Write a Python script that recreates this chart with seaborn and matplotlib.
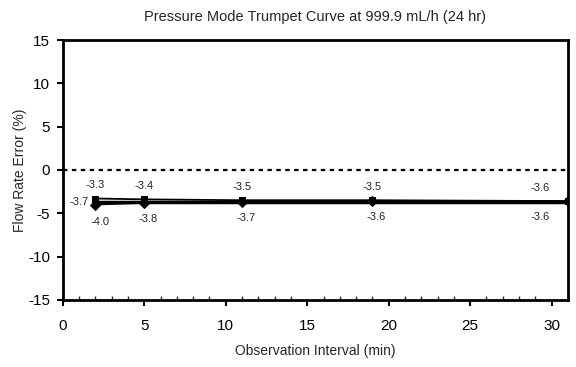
import numpy as np
import pandas as pd
import matplotlib.pyplot as plt
import seaborn as sns
from matplotlib.ticker import MultipleLocator

# Data
intervals = [2, 5, 11, 19, 31]
max_error = [-3.3, -3.4, -3.5, -3.5, -3.6]
min_error = [-4.0, -3.8, -3.7, -3.6, -3.6]
overall_error = -3.7

sns.set_style("ticks")
plt.rcParams['font.family'] = ['Liberation Sans', 'DejaVu Sans']
plt.rcParams['axes.unicode_minus'] = False

fig = plt.figure(figsize=(5.76, 3.67), dpi=100)
ax = fig.add_axes([0.109, 0.183, 0.877, 0.708])

df = pd.DataFrame({
    'interval': intervals * 2,
    'error': max_error + min_error,
    'series': ['Max'] * len(intervals) + ['Min'] * len(intervals),
})

sns.lineplot(data=df[df.series == 'Max'], x='interval', y='error', ax=ax,
             color='black', marker='s', markersize=5, linewidth=1.3,
             markeredgecolor='black')
sns.lineplot(data=df[df.series == 'Min'], x='interval', y='error', ax=ax,
             color='black', marker='D', markersize=5, linewidth=1.3,
             markeredgecolor='black')
sns.lineplot(x=[intervals[0], intervals[-1]], y=[overall_error, overall_error], ax=ax,
             color='black', linewidth=2.5)

# zero reference line
ax.axhline(0, color='black', linestyle=(0, (2, 2)), linewidth=1.6)

# value labels
for i, (x, v) in enumerate(zip(intervals, max_error)):
    dx = -20 if i == len(intervals) - 1 else 0
    ax.annotate(f"{v:.1f}", (x, v), xytext=(dx, 6), textcoords='offset points',
                ha='center', va='bottom', fontsize=8)
for i, (x, v) in enumerate(zip(intervals, min_error)):
    dx = -20 if i == len(intervals) - 1 else 3
    dy = -9 if i == 0 else -8
    ax.annotate(f"{v:.1f}", (x, v), xytext=(dx, dy), textcoords='offset points',
                ha='center', va='top', fontsize=8)
ax.annotate(f"{overall_error:.1f}", (intervals[0], overall_error), xytext=(-5, 0),
            textcoords='offset points', ha='right', va='center', fontsize=8)

ax.set_xlim(0, 31)
ax.set_ylim(-15, 15)
ax.set_xticks(range(0, 31, 5))
ax.set_yticks(range(-15, 16, 5))
ax.xaxis.set_minor_locator(MultipleLocator(1))
ax.tick_params(axis='both', which='major', direction='out', length=4, width=1.5,
               labelsize=11, colors='black')
ax.tick_params(axis='x', which='major', pad=10)
ax.tick_params(axis='y', which='major', pad=5)
ax.tick_params(axis='x', which='minor', direction='in', length=3, width=1)
for s in ax.spines.values():
    s.set_linewidth(2)
    s.set_color('black')

ax.set_xlabel('Observation Interval (min)', fontsize=10, labelpad=8)
ax.set_ylabel('Flow Rate Error (%)', fontsize=10, labelpad=1)
ax.set_title('Pressure Mode Trumpet Curve at 999.9 mL/h (24 hr)', fontsize=10.5, pad=14)

fig.savefig('out.png', dpi=100)
